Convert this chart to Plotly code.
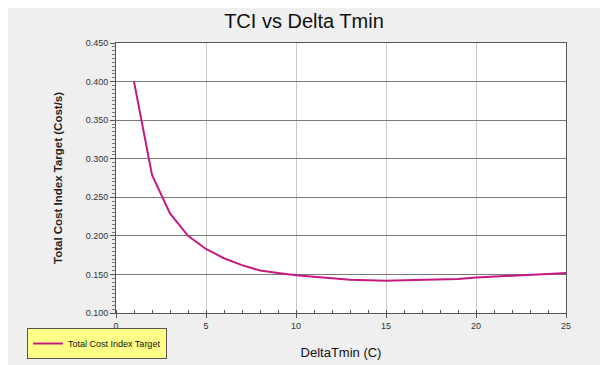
import plotly.graph_objects as go

delta_tmin = [1, 2, 3, 4, 5, 6, 7, 8, 9, 10, 11, 12, 13, 14, 15, 16, 17, 18, 19, 20, 21, 22, 23, 24, 25]
tci = [0.400, 0.279, 0.229, 0.200, 0.183, 0.171, 0.162, 0.155, 0.152, 0.149, 0.147, 0.145, 0.143, 0.1425,
       0.1418, 0.1425, 0.143, 0.1435, 0.144, 0.146, 0.147, 0.148, 0.149, 0.1505, 0.152]
x_ticks = [0, 5, 10, 15, 20, 25]
y_ticks = [0.100, 0.150, 0.200, 0.250, 0.300, 0.350, 0.400, 0.450]

OFF = 8  # page body margin
W, H = 592, 357
L, R, T, B = 116 - OFF, 566 - OFF, 43 - OFF, 313 - OFF
pw, ph = R - L, B - T

def px(v):
    return (v - OFF - L) / pw

def py(v):
    return (B - (v - OFF)) / ph

fig = go.Figure()
fig.add_trace(go.Scatter(
    x=delta_tmin, y=tci, mode="lines", name="Total Cost Index Target",
    line=dict(color="#c41a82", width=2),
))

font = "Arial, Liberation Sans, sans-serif"

fig.update_layout(
    width=W, height=H,
    margin=dict(l=L, r=W - R, t=T, b=H - B, autoexpand=False),
    paper_bgcolor="#efefef",
    plot_bgcolor="white",
    font=dict(family=font, color="#222222"),
    title=dict(text="TCI vs Delta Tmin", x=px(304), xanchor="center", xref="paper",
               y=1 - (21 - OFF) / H, yanchor="middle",
               font=dict(size=20, color="#111111")),
    showlegend=True,
    legend=dict(x=px(27), y=py(328), xanchor="left", yanchor="top",
                bgcolor="#ffff88", bordercolor="#555555", borderwidth=1,
                font=dict(size=9, color="#111111"), itemwidth=30,
                tracegroupgap=0),
)

fig.update_xaxes(
    range=[0, 25], tickvals=x_ticks, ticktext=[str(v) for v in x_ticks],
    showgrid=True, gridcolor="#c8c8c8", gridwidth=1,
    showline=True, linecolor="#555555", linewidth=1, mirror=True,
    ticks="outside", ticklen=4, tickcolor="#555555",
    minor=dict(dtick=1, ticks="inside", ticklen=3, tickcolor="#555555", showgrid=False),
    tickfont=dict(size=9, color="#333333"),
    title=dict(text="DeltaTmin (C)", font=dict(size=13, color="#111111"), standoff=18),
    zeroline=False,
)
fig.update_yaxes(
    range=[0.1, 0.45], tickvals=y_ticks, tickformat=".3f",
    showgrid=True, gridcolor="#7a7a7a", gridwidth=1,
    showline=True, linecolor="#555555", linewidth=1, mirror=True,
    ticks="outside", ticklen=5, tickcolor="#555555",
    minor=dict(dtick=0.005, ticks="outside", ticklen=3, tickcolor="#777777", showgrid=False),
    tickfont=dict(size=9, color="#333333"),
    title=dict(text="<b>Total Cost Index Target (Cost/s)</b>", font=dict(size=11.5, color="#222222"), standoff=20),
    zeroline=False,
)

fig.write_html("out.html")
